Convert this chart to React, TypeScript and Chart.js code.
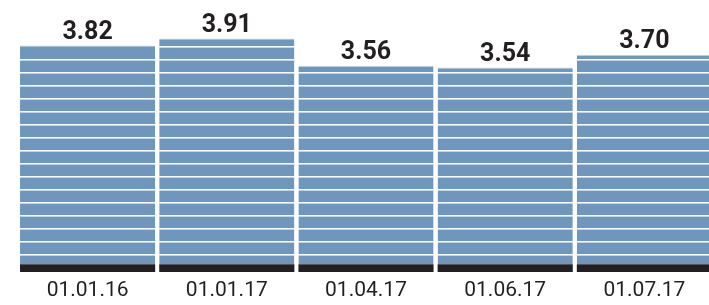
import React, { useEffect, useRef } from "react";
import { Chart, registerables } from "chart.js";

Chart.register(...registerables);

const categories = ["01.01.16", "01.01.17", "01.04.17", "01.06.17", "01.07.17"];
const values = [3.82, 3.91, 3.56, 3.54, 3.7];
const valueLabels = ["3.82", "3.91", "3.56", "3.54", "3.70"];

const Y_MIN = 0.93;
const Y_MAX = 4.4;
const BAND_TOP = 1.03;

const BLUE = "#6f96bc";
const DARK = "#231f20";

const stripePlugin = {
  id: "stripes",
  afterDatasetsDraw(chart: any) {
    const ctx = chart.ctx;
    const meta = chart.getDatasetMeta(1);
    ctx.save();
    meta.data.forEach((el: any, i: number) => {
      const w = el.width;
      const x1 = el.x - w / 2;
      const top = el.y;
      const base = el.base;
      ctx.fillStyle = "rgba(255,255,255,0.95)";
      for (let y = base - 9; y > top + 3; y -= 13) {
        ctx.fillRect(x1, Math.round(y) - 1, w, 1.6);
      }
      ctx.fillStyle = DARK;
      ctx.font = "bold 25px Roboto";
      ctx.textAlign = "center";
      ctx.textBaseline = "alphabetic";
      ctx.fillText(valueLabels[i], el.x, top - 6.5);
    });
    ctx.restore();
  },
};

export default function App() {
  const ref = useRef<HTMLCanvasElement | null>(null);
  useEffect(() => {
    document.body.style.margin = "0";
    document.body.style.overflow = "hidden";
    const chart = new Chart(ref.current as HTMLCanvasElement, {
      type: "bar",
      data: {
        labels: categories,
        datasets: [
          {
            data: categories.map(() => [Y_MIN, BAND_TOP]) as any,
            backgroundColor: DARK,
            borderWidth: 0,
            barPercentage: 0.971,
            categoryPercentage: 1,
          },
          {
            data: values.map((v) => [BAND_TOP, v]) as any,
            backgroundColor: BLUE,
            borderColor: "#c6d5e5",
            borderWidth: { top: 1, bottom: 0, left: 0, right: 0 },
            borderSkipped: false,
            barPercentage: 0.971,
            categoryPercentage: 1,
          },
        ],
      },
      options: {
        animation: false,
        responsive: false,
        events: [],
        layout: { padding: { left: 18, right: 0, top: 0, bottom: 0 } },
        plugins: { legend: { display: false }, tooltip: { enabled: false } },
        scales: {
          x: {
            stacked: true,
            grid: { display: false, drawTicks: false },
            border: { display: false },
            ticks: {
              color: DARK,
              font: { family: "Roboto", size: 21, weight: "normal" },
              padding: 6,
            },
            afterFit: (axis: any) => {
              axis.height = 33;
            },
          },
          y: {
            display: false,
            min: Y_MIN,
            max: Y_MAX,
          },
        },
      },
      plugins: [stripePlugin],
    });
    return () => chart.destroy();
  }, []);
  return (
    <div style={{ width: 709, height: 305, overflow: "hidden", background: "#fff" }}>
      <canvas ref={ref} width={714} height={305} style={{ display: "block" }} />
    </div>
  );
}
